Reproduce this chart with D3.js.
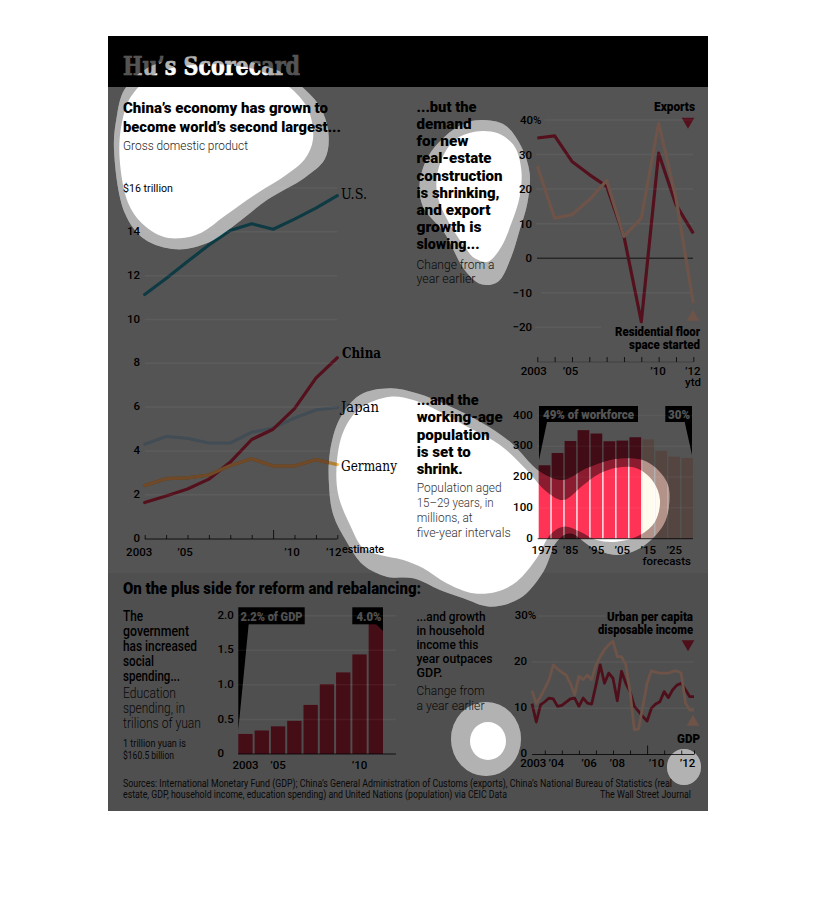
<!DOCTYPE html>
<html><head><meta charset="utf-8">
<script src="https://cdn.jsdelivr.net/npm/d3@7/dist/d3.min.js"></script>
<style>
html,body{margin:0;padding:0;background:#fff}
svg{display:block}
text{font-family:Roboto,"Noto Sans",sans-serif;fill:#000}
.tk text{font:500 11.5px Roboto,sans-serif;fill:#000}
.tk path.domain{display:none}
.ax text{font:500 11.5px Roboto,sans-serif;fill:#000}
.ax line,.ax path{stroke:#000;stroke-width:.8;fill:none}
</style></head><body><svg id="c" width="816" height="906"></svg>
<script>
// ---- data ----
const gdpYears=[2003,2004,2005,2006,2007,2008,2009,2010,2011,2012];
const gdpUS=[11.14,11.87,12.64,13.4,14.06,14.37,14.12,14.58,15.08,15.65];
const gdpChina=[1.64,1.94,2.26,2.71,3.49,4.52,4.99,5.93,7.32,8.25];
const gdpJapan=[4.3,4.66,4.57,4.36,4.36,4.85,5.04,5.5,5.87,5.98];
const gdpGermany=[2.42,2.73,2.77,2.9,3.33,3.64,3.31,3.31,3.6,3.37];
const gdpTicks=[2,4,6,8,10,12,14,16];
const gdpLabels={2003:"2003",2005:"’05",2010:"’10",2012:"’12"};

const tradeYears=gdpYears;
const exportsGrowth=[34.8,35.4,28,24.2,20.8,6.3,-18.4,30.4,15.5,7.2];
const residentialGrowth=[26.6,11.6,12.6,16.9,22.5,6.3,11.6,39.1,17.4,-13];
const tradeTicks=[40,30,20,10,0,-10,-20];
const tradeLabels={2003:"2003",2005:"’05",2010:"’10",2012:"’12"};

const popYears=["1975","1980","1985","1990","1995","2000","2005","2010","2015","2020","2025","2030"];
const popValues=[238,278,317,352,341,316,318,329,322,285,266,262];
const popForecastFrom="2015";
const popTicks=[0,100,200,300,400];
const popLabels={"1975":"1975","1985":"’85","1995":"’95","2005":"’05","2015":"’15","2025":"’25"};

const eduYears=["2003","2004","2005","2006","2007","2008","2009","2010","2011"];
const eduValues=[0.29,0.34,0.40,0.48,0.71,1.01,1.18,1.44,1.95];
const eduTicks=[0,0.5,1,1.5,2];
const eduLabels={"2003":"2003","2005":"’05","2010":"’10"};

const urbanIncome=[11,7,10.7,11.4,12.2,12,10.4,10.6,11.3,12,12.2,10.4,12.2,11.1,10.9,15,19.4,15.4,17.6,16.5,11.6,18,15.4,13.6,10.4,9.3,8.2,7.2,10,10.9,11.4,13.6,12.3,14,15,15.4,14,12.5,12.5];
const gdpGrowth=[13.8,11,12.5,14.3,16.2,19.4,18.5,17.8,17.2,15.4,12.9,16.9,16.2,17.2,16.2,19.4,21.2,22.7,23.8,24.5,21.2,21.2,19.4,13.6,5.3,5.5,10.4,15.4,18.1,17.8,17.6,17.6,17.6,18,18.1,17.6,11.1,9.6,9.6];
const incomeTicks=[0,10,20,30];
const incomeYearStarts=[3,7,11,15,19,23,27,31,35,38];
const incomeLabels=[[0.3,"2003"],[5.7,"’04"],[13.4,"’06"],[20,"’08"],[29.2,"’10"],[36.5,"’12"]];

// spotlight outlines: [origin x, origin y, points at 3x]
const blob1Core=[108,36,[[40,270],[35,370],[60,500],[100,560],[160,600],[215,607],[280,590],[350,540],[450,470],[530,420],[590,370],[615,310],[600,220],[540,150],[440,100],[300,85],[150,110],[70,180]]];
const blob1Halo=[108,36,[[25,250],[18,340],[50,530],[110,610],[205,640],[300,620],[370,575],[480,490],[590,425],[650,370],[662,300],[640,220],[590,160],[500,100],[300,60],[130,90],[50,160]]];
const blob2Core=[408,90,[[200,125],[270,130],[320,170],[340,240],[335,320],[310,400],[280,470],[240,515],[200,505],[170,470],[130,410],[95,340],[85,280],[100,210],[140,150]]];
const blob2Halo=[408,90,[[220,90],[290,105],[340,170],[365,250],[358,340],[335,420],[310,500],[270,575],[220,583],[170,540],[110,430],[45,350],[35,280],[60,200],[110,140],[170,100]]];
const blob3Core=[330,385,[[180,35],[250,45],[330,80],[420,130],[510,180],[590,255],[650,320],[700,345],[760,300],[810,265],[860,248],[920,250],[970,290],[990,345],[975,410],[930,450],[860,470],[800,465],[750,440],[700,425],[660,450],[620,520],[560,590],[500,620],[430,625],[350,595],[280,550],[220,525],[150,510],[100,490],[60,420],[25,330],[20,240],[40,140],[90,70]]];
const blob3Halo=[330,385,[[180,10],[260,25],[350,60],[450,110],[540,170],[630,260],[700,285],[770,250],[860,222],[950,230],[1010,290],[1018,350],[1000,420],[930,490],[860,510],[790,490],[720,445],[680,470],[640,560],[570,640],[480,665],[400,640],[330,615],[250,580],[170,575],[100,540],[50,470],[10,390],[-3,300],[0,200],[30,100],[90,30]]];
const ellipse4Core=[488,741,18,19];
const ellipse4Halo=[486,739,35,37];
const ellipse5Halo=[684,767,17,18];

// ---- helpers ----
const svg=d3.select("#c");
const defs=svg.append("defs");
const base=svg.append("g");
const veil=svg.append("g");
const top_=svg.append("g");
const blobLine=d3.line().curve(d3.curveCatmullRomClosed.alpha(.5));
const blob=b=>blobLine(b[2].map(p=>[b[0]+p[0]/3,b[1]+p[1]/3]));
const ell=e=>`M${e[0]-e[2]},${e[1]}a${e[2]},${e[3]} 0 1 0 ${2*e[2]},0a${e[2]},${e[3]} 0 1 0 ${-2*e[2]},0Z`;
const CARD={x:108,y:36,w:600,h:775};
const cardPath=`M${CARD.x},${CARD.y}h${CARD.w}v${CARD.h}h${-CARD.w}Z`;
const halos=[blob(blob1Halo),blob(blob2Halo),blob(blob3Halo),ell(ellipse4Halo),ell(ellipse5Halo)].join("");
const cores=[blob(blob1Core),blob(blob2Core),blob(blob3Core),ell(ellipse4Core)].join("");

defs.append("clipPath").attr("id","outside").append("path").attr("d",cardPath+halos).attr("clip-rule","evenodd");
defs.append("clipPath").attr("id","notcore").append("path").attr("d",cardPath+blob(blob3Core)).attr("clip-rule","evenodd");
defs.append("clipPath").attr("id","core3").append("path").attr("d",blob(blob3Core));

function T(g,x,y,s,o={}){
  const t=g.append("text").attr("x",x).attr("y",y).text(s)
    .attr("font-size",o.size||12).attr("font-weight",o.weight||400);
  if(o.font)t.style("font-family",o.font);
  if(o.fill)t.style("fill",o.fill);
  if(o.anchor)t.attr("text-anchor",o.anchor);
  if(o.w)t.attr("textLength",o.w).attr("lengthAdjust","spacingAndGlyphs");
  if(o.stroke)t.style("stroke",o.stroke).style("stroke-width",o.sw||.5);
  return t;
}
function lines(g,x,ys,arr,o){arr.forEach((s,i)=>T(g,x,ys[i],s,Object.assign({},o,{w:o.ws?o.ws[i]:0})));}
const SLAB='"DejaVu Serif",serif';
const RED="#ff3355",TAN="#6e5349",HEAVY=900;

// ---- card background ----
base.append("rect").attr("x",CARD.x).attr("y",CARD.y).attr("width",CARD.w).attr("height",CARD.h).attr("fill","#fff");
base.append("rect").attr("x",CARD.x).attr("y",CARD.y).attr("width",CARD.w).attr("height",51).attr("fill","#000");
T(base,123,75,"Hu’s Scorecard",{size:26,weight:700,font:SLAB,fill:"#fff",w:177,stroke:"#fff",sw:.7});

// ---- chart 1: GDP ----
const x1=d3.scaleLinear().domain([2003,2012]).range([144.7,337.3]);
const y1=d3.scaleLinear().domain([0,16]).range([538.5,188]);
const l1=d3.line().x((d,i)=>x1(gdpYears[i])).y(d=>y1(d));
gdpTicks.forEach(v=>top_.append("line").attr("x1",x1(2003)).attr("x2",x1(2012)).attr("y1",y1(v)).attr("y2",y1(v)).attr("stroke","#fff").attr("stroke-opacity",.05).attr("stroke-width",1.5));
[[gdpGermany,"#ffb84d"],[gdpJapan,"#c8e6ff"],[gdpUS,"#2cb0cc"],[gdpChina,RED]].forEach(([d,c])=>
  base.append("path").attr("d",l1(d)).attr("fill","none").attr("stroke",c).attr("stroke-width",3.2).attr("stroke-linecap","round").attr("stroke-linejoin","round"));
top_.append("path").attr("clip-path","url(#outside)").attr("d",l1(gdpGermany)).attr("fill","none").attr("stroke","#704a28").attr("stroke-width",3.2).attr("stroke-linecap","round").attr("stroke-linejoin","round");
const yAx1=d3.axisLeft(y1).tickValues([0,...gdpTicks.slice(0,7)]).tickSize(0).tickPadding(0);
base.append("g").attr("class","tk").attr("transform","translate(140,-1)").call(yAx1);
T(base,123,192,"$16 trillion",{size:11,w:50});
const xAx1=d3.axisBottom(x1).tickValues(gdpYears).tickSize(-4).tickPadding(9).tickFormat(d=>gdpLabels[d]||"");
const a1=base.append("g").attr("class","ax").attr("transform","translate(0,539)").call(xAx1);
a1.select(".domain").attr("d",`M${x1(2003)},0H${x1(2012)}`);
a1.selectAll(".tick line").attr("y2",d=>d===2009?-9:-4);
a1.selectAll(".tick text").attr("dx",d=>d===2003?-6:d===2012?-4:-3);
T(base,342,553,"estimate",{size:11.5,weight:500,w:42});
T(base,341,198.5,"U.S.",{size:15,font:SLAB,w:26});
T(base,342,358,"China",{size:15,weight:700,font:SLAB,w:39});
T(base,341,412,"Japan",{size:15,font:SLAB,w:38});
T(base,341,470.5,"Germany",{size:15,font:SLAB,w:56});
T(base,123,112.7,"China’s economy has grown to",{size:15,weight:HEAVY,w:205});
T(base,123,131.7,"become world’s second largest...",{size:15,weight:HEAVY,w:218});
T(base,123,150,"Gross domestic product",{size:12.5,weight:300,fill:"#222",w:125});

// ---- chart 2: exports & floor space ----
const x2=d3.scaleLinear().domain([2003,2012]).range([537.3,693.3]);
const y2=d3.scaleLinear().domain([-20,40]).range([327.3,120]);
const l2=d3.line().x((d,i)=>x2(tradeYears[i])).y(d=>y2(d));
tradeTicks.filter(v=>v!==0).forEach(v=>top_.append("line").attr("x1",v===40?545:v===-20?535:v===-10?541:536).attr("x2",v===-20?601:693).attr("y1",y2(v)).attr("y2",y2(v)).attr("stroke","#fff").attr("stroke-opacity",.05).attr("stroke-width",1.5));
base.append("line").attr("x1",537).attr("x2",693).attr("y1",y2(0)).attr("y2",y2(0)).attr("stroke","#000").attr("stroke-width",.8);
base.append("path").attr("d",l2(exportsGrowth)).attr("fill","none").attr("stroke",RED).attr("stroke-width",3.2).attr("stroke-linejoin","round");
top_.append("path").attr("d",l2(residentialGrowth)).attr("fill","none").attr("stroke",TAN).attr("stroke-width",3.2).attr("stroke-linejoin","round");
const t2=base.append("g").attr("class","tk").attr("transform","translate(532,0)").call(d3.axisLeft(y2).tickValues(tradeTicks).tickSize(0).tickPadding(0).tickFormat(d=>d===40?"40%":d<0?"−"+(-d):d));
t2.selectAll(".tick text").filter(d=>d===40).attr("text-anchor","start").attr("x",-12);
const xAx2=d3.axisBottom(x2).tickValues(tradeYears).tickSize(-5).tickPadding(5).tickFormat(d=>tradeLabels[d]||"");
const a2=base.append("g").attr("class","ax").attr("transform","translate(0,362)").call(xAx2);
a2.select(".domain").attr("stroke","#000").attr("stroke-opacity",.3).attr("d",`M${x2(2003)},0H${x2(2012)}`);
a2.selectAll(".tick text").attr("dx",d=>d===2003?-4:d===2005?-2:-1);
T(base,693,386,"ytd",{size:11.5,weight:500,anchor:"middle"});
T(base,695,111,"Exports",{size:12,weight:HEAVY,anchor:"end",w:41});
T(base,700,336,"Residential floor",{size:12,weight:HEAVY,anchor:"end",w:85});
T(base,700,348.5,"space started",{size:12,weight:HEAVY,anchor:"end",w:71});
base.append("path").attr("d",d3.symbol(d3.symbolTriangle,70)()).attr("transform","translate(688,121.5) rotate(180)").attr("fill",RED);
top_.append("path").attr("d",d3.symbol(d3.symbolTriangle,70)()).attr("transform","translate(693,317)").attr("fill",TAN);
lines(base,416.5,[112,129.2,146.3,163.4,180.6,197.7,214.8,232,249],["...but the","demand","for new","real-estate","construction","is shrinking,","and export","growth is","slowing..."],
  {size:15,weight:HEAVY,ws:[60,55,52,75,86,83,74,65,63]});
lines(base,416.5,[268.5,283],["Change from a","year earlier"],{size:13,weight:300,fill:"#222",ws:[78,59]});

// ---- chart 3: working-age population ----
const x3=d3.scaleBand().domain(popYears).range([538.7,693]).paddingInner(.1).paddingOuter(0);
const y3=d3.scaleLinear().domain([0,400]).range([538.6,415.4]);
popTicks.filter(v=>v>0).forEach(v=>top_.append("line").attr("x1",537).attr("x2",693).attr("y1",y3(v)).attr("y2",y3(v)).attr("stroke","#fff").attr("stroke-opacity",.04).attr("stroke-width",1.5));
const isF=d=>+d>=+popForecastFrom;
function popBars(g,data,fill){g.selectAll(null).data(data).join("rect").attr("x",d=>x3(d[0])).attr("width",x3.bandwidth()).attr("y",d=>y3(d[1])).attr("height",d=>y3(0)-y3(d[1])).attr("fill",fill);}
const popData=popYears.map((y,i)=>[y,popValues[i]]);
popBars(base.append("g"),popData.filter(d=>!isF(d[0])),RED);
popBars(base.append("g"),popData.filter(d=>isF(d[0])),"#ffd2c4");
popBars(base.append("g").attr("clip-path","url(#core3)"),popData.filter(d=>isF(d[0])),"#fffbee");
popBars(top_.append("g").attr("clip-path","url(#notcore)").attr("opacity",.22),popData.filter(d=>!isF(d[0])),"#000");
const t3=base.append("g").attr("class","tk").attr("transform","translate(532.7,-1)").call(d3.axisLeft(y3).tickValues(popTicks).tickSize(0).tickPadding(0));
const a3=base.append("g").attr("class","ax").attr("transform","translate(0,538.7)").call(d3.axisBottom(x3).tickValues(Object.keys(popLabels)).tickSize(0).tickPadding(7).tickFormat(d=>popLabels[d]));
a3.select(".domain").attr("d",`M${x3.range()[0]-1},0H693`);
T(base,691,565,"forecasts",{size:11.5,weight:500,anchor:"end"});
const tagLine=d3.line();
[[539,406,99,16],[665.3,406,26.7,16]].forEach(r=>base.append("rect").attr("x",r[0]).attr("y",r[1]).attr("width",r[2]).attr("height",r[3]).attr("fill","#000"));
base.append("path").attr("d",tagLine([[539,422],[547,422],[539,460]])).attr("fill","#000");
base.append("path").attr("d",tagLine([[684.7,422],[692,422],[692,455]])).attr("fill","#000");
T(base,588.5,418.5,"49% of workforce",{size:12,weight:HEAVY,fill:"#fff",anchor:"middle",w:91});
T(base,679,418.5,"30%",{size:12,weight:HEAVY,fill:"#fff",anchor:"middle",w:22});
lines(base,416.7,[405,422.3,439.5,457,474],["...and the","working-age","population","is set to","shrink."],{size:15,weight:HEAVY,ws:[62,86,73,54,46]});
lines(base,416.7,[492,507,522,537],["Population aged","15–29 years, in","millions, at","five-year intervals"],{size:13,weight:300,fill:"#333",ws:[85,77,56,94]});

// ---- lower section ----
top_.append("rect").attr("clip-path","url(#outside)").attr("x",CARD.x).attr("y",573).attr("width",CARD.w).attr("height",811-573).attr("fill","#000").attr("opacity",.06);
T(base,123,594,"On the plus side for reform and rebalancing:",{size:16,weight:HEAVY,w:298});

// ---- chart 4: education spending ----
const x4=d3.scaleBand().domain(eduYears).range([238.3,383]).paddingInner(.12).paddingOuter(0);
const y4=d3.scaleLinear().domain([0,2]).range([754,615.7]);
[0.5,1,1.5,2].forEach(v=>top_.append("line").attr("x1",238).attr("x2",396).attr("y1",y4(v)).attr("y2",y4(v)).attr("stroke","#fff").attr("stroke-opacity",.05).attr("stroke-width",1.5));
base.append("g").selectAll(null).data(eduYears).join("rect").attr("x",d=>x4(d)).attr("width",x4.bandwidth())
  .attr("y",(d,i)=>y4(eduValues[i])).attr("height",(d,i)=>y4(0)-y4(eduValues[i])).attr("fill","#e02c48");
const t4=base.append("g").attr("class","tk").attr("transform","translate(232,-1)").call(d3.axisLeft(y4).tickValues(eduTicks).tickSize(0).tickPadding(0).tickFormat(d=>d===0?"0":d3.format(".1f")(d)));
t4.selectAll(".tick text").attr("text-anchor","start").attr("x",-14.5);
const a4=base.append("g").attr("class","ax").attr("transform","translate(0,754)").call(d3.axisBottom(x4).tickValues(Object.keys(eduLabels)).tickSize(0).tickPadding(7).tickFormat(d=>eduLabels[d]));
a4.select(".domain").attr("d","M238,0H396");
[[238.3,607.3,66.4,17],[352.3,607.3,30.7,17]].forEach(r=>base.append("rect").attr("x",r[0]).attr("y",r[1]).attr("width",r[2]).attr("height",r[3]).attr("fill","#000"));
base.append("path").attr("d",tagLine([[238.3,624],[248.7,624],[238.3,730]])).attr("fill","#000");
base.append("path").attr("d",tagLine([[376,624],[383,624],[383,631]])).attr("fill","#000");
T(base,271.5,620.5,"2.2% of GDP",{size:12,weight:HEAVY,fill:"#fff",anchor:"middle",w:62});
T(base,369,620.5,"4.0%",{size:12,weight:HEAVY,fill:"#fff",anchor:"middle",w:25});
lines(base,123,[620.7,635.5,650.5,665.5,680.5],["The","government","has increased","social","spending..."],{size:14,weight:500,ws:[20,66,74,31,57]});
lines(base,123,[698,713,728],["Education","spending, in","trilions of yuan"],{size:14,weight:300,fill:"#222",ws:[53,62,78]});
lines(base,123,[747,758.5],["1 trillion yuan is","$160.5 billion"],{size:10.5,fill:"#222",ws:[63,51]});

// ---- chart 5: income vs GDP ----
const x5=d3.scaleLinear().domain([0,38]).range([532,694]);
const y5=d3.scaleLinear().domain([0,30]).range([754.3,616]);
const l5=d3.line().x((d,i)=>x5(i)).y(d=>y5(d));
[[10,532,694],[20,532,694],[30,538,606]].forEach(g=>top_.append("line").attr("x1",g[1]).attr("x2",g[2]).attr("y1",y5(g[0])).attr("y2",y5(g[0])).attr("stroke","#fff").attr("stroke-opacity",.05).attr("stroke-width",1.5));
top_.append("path").attr("d",l5(gdpGrowth)).attr("fill","none").attr("stroke",TAN).attr("stroke-width",2.8).attr("stroke-linejoin","round");
base.append("path").attr("d",l5(urbanIncome)).attr("fill","none").attr("stroke",RED).attr("stroke-width",2.8).attr("stroke-linejoin","round");
const t5=base.append("g").attr("class","tk").attr("transform","translate(527,-1)").call(d3.axisLeft(y5).tickValues(incomeTicks).tickSize(0).tickPadding(0).tickFormat(d=>d===30?"30%":d));
t5.selectAll(".tick text").filter(d=>d===30).attr("text-anchor","start").attr("x",-12.3);
const a5=base.append("g").attr("class","ax").attr("transform","translate(0,754.5)").call(d3.axisBottom(x5).tickValues(incomeYearStarts).tickSize(-4).tickFormat(""));
a5.select(".domain").attr("d","M532,0H694");
a5.selectAll(".tick line").attr("y2",d=>d===27?-9:-4);
a5.selectAll("text.yr").data(incomeLabels).join("text").attr("class","yr").attr("x",d=>x5(d[0])).attr("y",12.5).attr("text-anchor","middle").text(d=>d[1]);
T(base,693,621,"Urban per capita",{size:12,weight:HEAVY,anchor:"end",w:86});
T(base,693,634,"disposable income",{size:12,weight:HEAVY,anchor:"end",w:95});
base.append("path").attr("d",d3.symbol(d3.symbolTriangle,70)()).attr("transform","translate(688,644) rotate(180)").attr("fill",RED);
top_.append("path").attr("d",d3.symbol(d3.symbolTriangle,70)()).attr("transform","translate(693,722)").attr("fill",TAN);
T(base,700,742.5,"GDP",{size:12,weight:HEAVY,anchor:"end",w:23});
lines(base,416.5,[620.7,634.7,648.7,662.7,676.7],["...and growth","in household","income this","year outpaces","GDP."],{size:13,weight:500,ws:[69,68,62,76,26]});
lines(base,416.5,[695,710],["Change from","a year earlier"],{size:13.5,weight:300,fill:"#222",ws:[68,68]});

// ---- footer ----
const foot={size:10,fill:"#222"};
T(base,123,787,"Sources: International Monetary Fund (GDP); China’s General Administration of Customs (exports), China’s National Bureau of Statistics (real",Object.assign({w:549},foot));
T(base,123,797.7,"estate, GDP, household income, education spending) and United Nations (population) via CEIC Data",Object.assign({w:384},foot));
T(base,691,797.7,"The Wall Street Journal",Object.assign({anchor:"end",w:91},foot));

// ---- spotlight veil ----
veil.append("path").attr("d",cardPath+halos).attr("fill-rule","evenodd").attr("fill","#000").attr("fill-opacity",.67);
veil.append("path").attr("d",halos+cores).attr("fill-rule","evenodd").attr("fill","#000").attr("fill-opacity",.3);
</script></body></html>
